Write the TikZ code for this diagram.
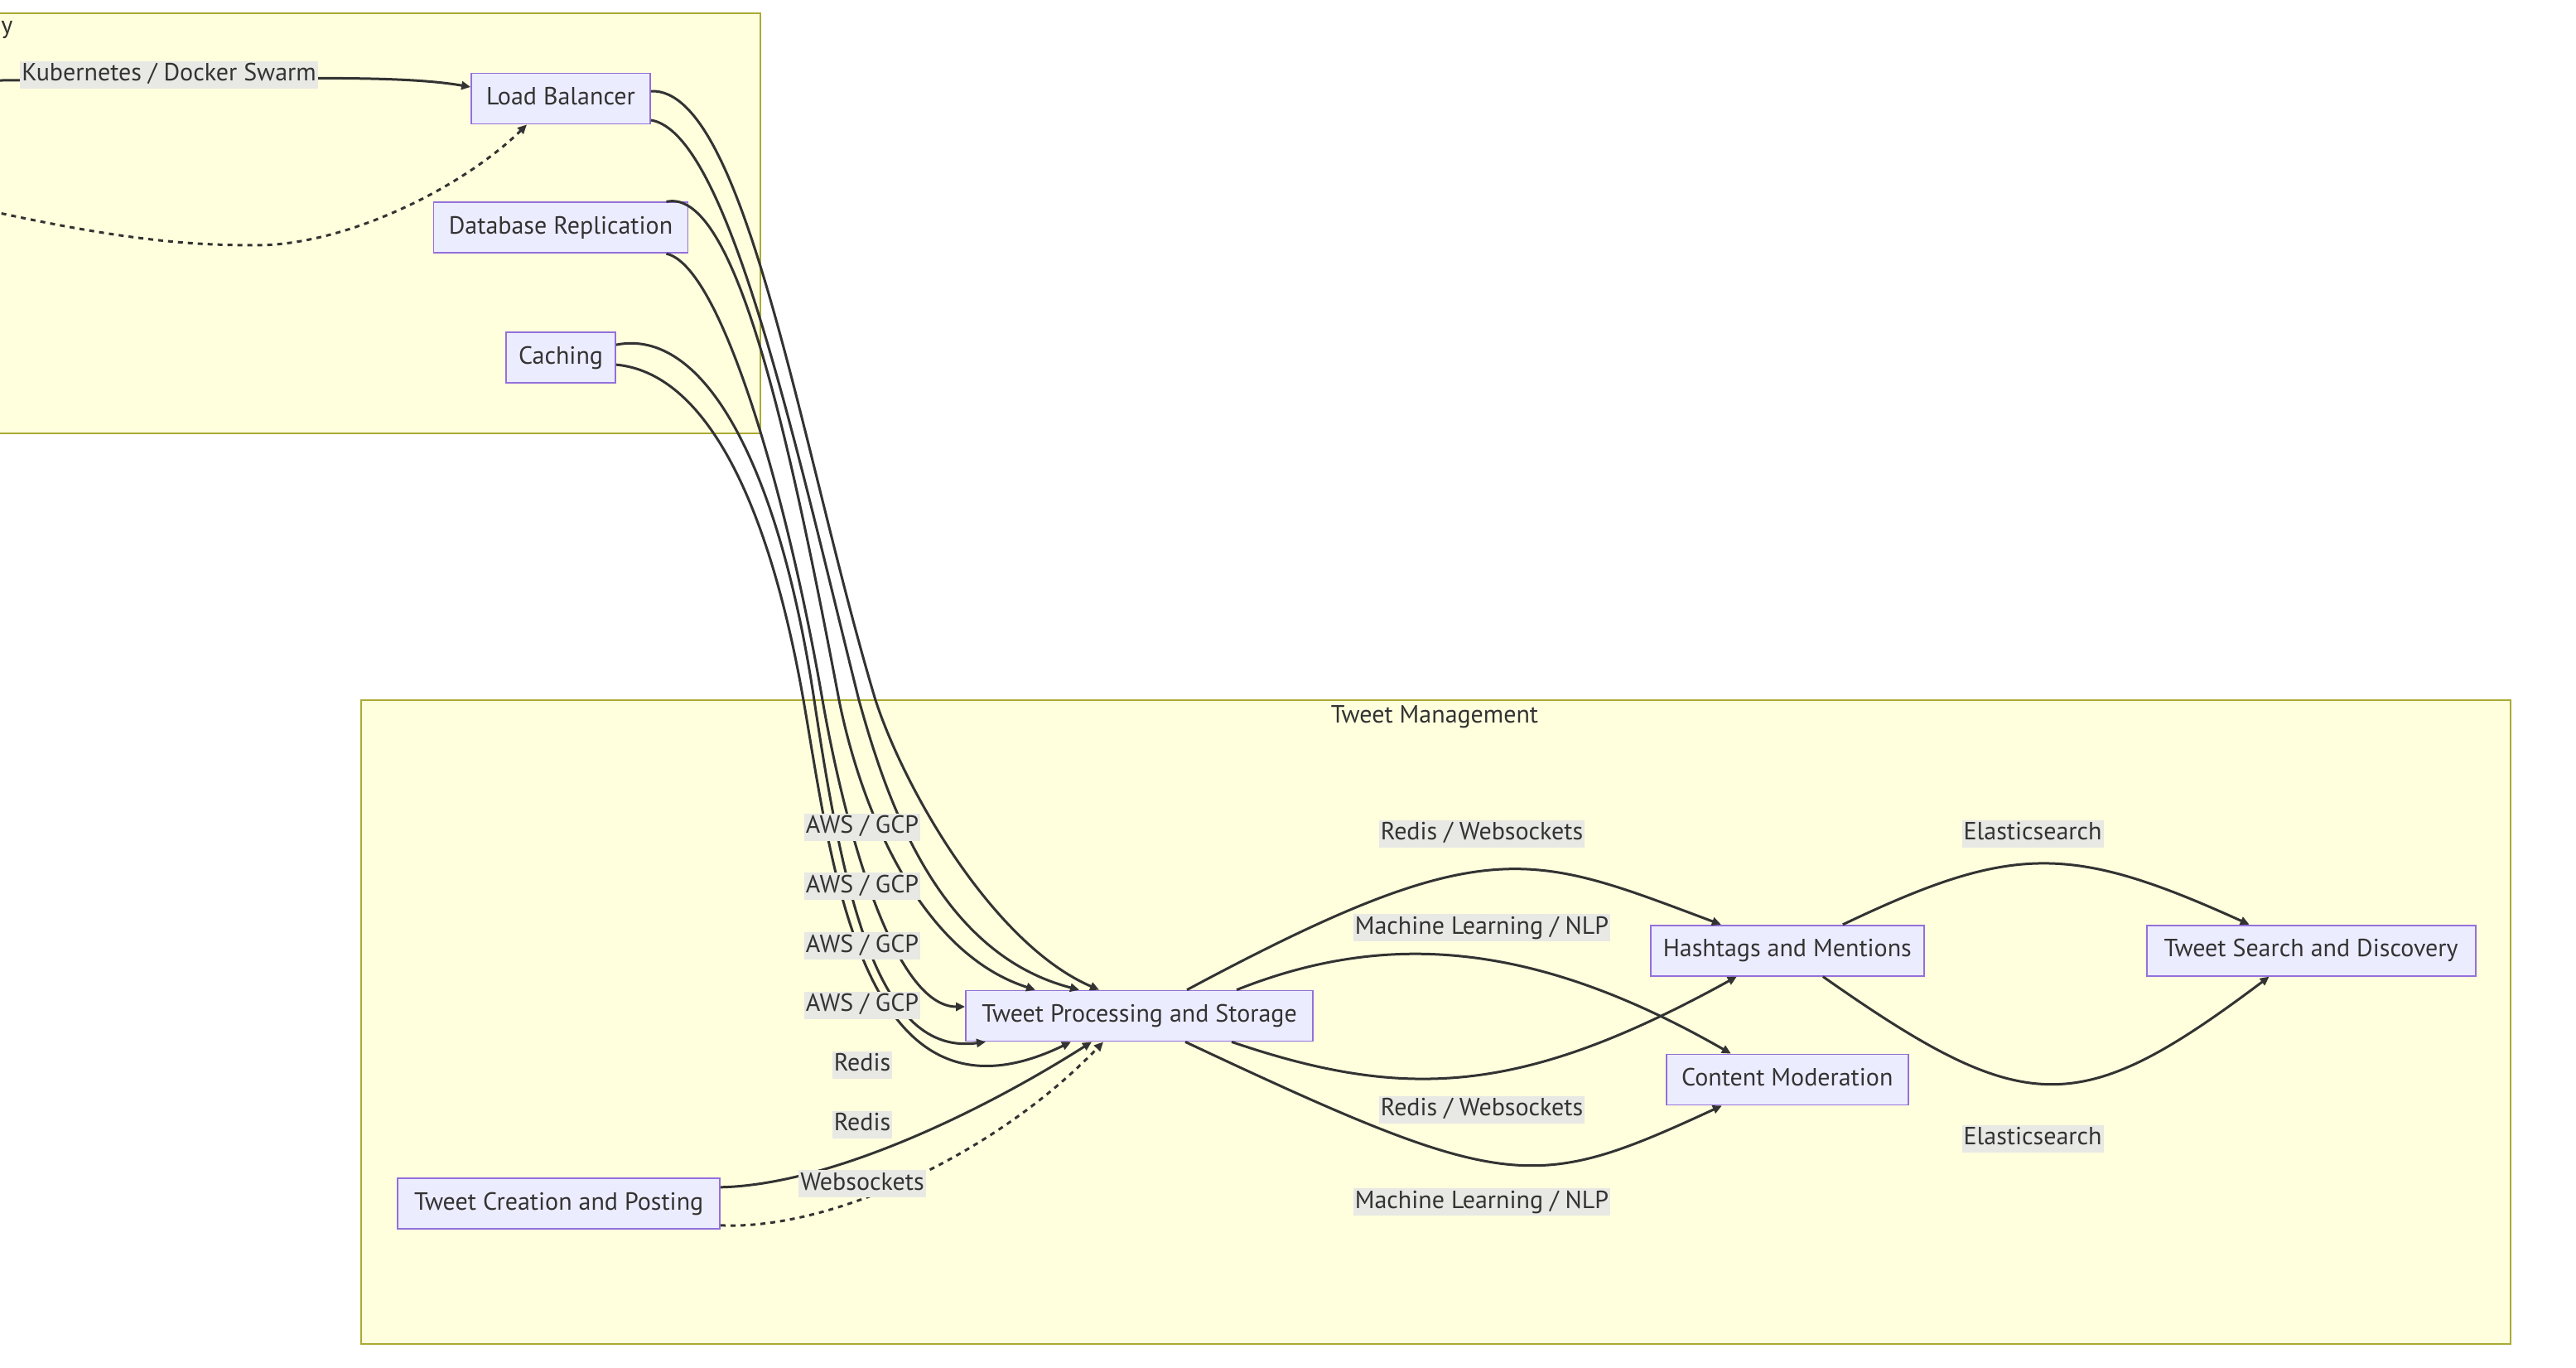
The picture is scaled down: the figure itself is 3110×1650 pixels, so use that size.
\documentclass[tikz,border=0pt]{standalone}
\usepackage{fontspec}
\setmainfont{PT Sans}
\usetikzlibrary{positioning, arrows.meta}

\definecolor{clusterfill}{HTML}{FFFFDE}
\definecolor{clusterline}{HTML}{AAAA33}
\definecolor{nodefill}{HTML}{ECECFF}
\definecolor{nodeline}{HTML}{9370DB}
\definecolor{inkcol}{HTML}{333333}
\definecolor{labelfill}{HTML}{E8E8E4}

\begin{document}
\begin{tikzpicture}[
    x=0.5pt, y=-0.5pt,
    node distance=19pt and 40pt,
    every node/.style={font=\fontsize{15}{18}\selectfont, text=inkcol},
    box/.style={rectangle, draw=nodeline, fill=nodefill, line width=0.9pt, minimum height=30.5pt, inner xsep=7.5pt, text height=11pt, text depth=3.5pt},
    cluster/.style={draw=clusterline, fill=clusterfill, line width=0.9pt},
    edgelabel/.style={fill=labelfill, inner xsep=1pt, inner ysep=0pt, minimum height=16.5pt, text height=11pt, text depth=3.5pt},
    arr/.style={-{Triangle[length=5.5pt, width=5pt]}, draw=inkcol, line width=1.5pt},
    dotarr/.style={arr, dash pattern=on 3pt off 3pt}
]
    \useasboundingbox (0,0) rectangle (3110,1650);
    \clip (0,0) rectangle (3110,1650);
    \draw[cluster] (-60,16) rectangle (918,523);
    \draw[cluster] (436,845) rectangle (3031,1622);
    \node[anchor=west, inner sep=0pt] (scaletitle) at (1,36) {y};
    \node (tweettitle) at (1732,865) {Tweet Management};

    \node[box, minimum width=108pt] (lb) at (677,119) {Load Balancer};
    \node[box, minimum width=153.5pt, below=46.5pt of lb] (db) {Database Replication};
    \node[box, minimum width=65.5pt, below=47pt of db] (cache) {Caching};
    \node[box, minimum width=209.5pt] (tps) at (1375.5,1226) {Tweet Processing and Storage};
    \node[box, minimum width=165pt, above right=8pt and 203pt of tps] (hashtags) {Hashtags and Mentions};
    \node[box, minimum width=146pt, below=46.5pt of hashtags] (moderation) {Content Moderation};
    \node[box, minimum width=198.5pt, right=133.5pt of hashtags] (search) {Tweet Search and Discovery};
    \node[box, minimum width=194.5pt, below left=82pt and 147.5pt of tps] (creation) {Tweet Creation and Posting};

    \coordinate (clusterin) at (-10,97);
    \coordinate (dottedin) at (-10,255);
    \draw[arr] (clusterin) .. controls (300,97) and (470,88) .. ([yshift=7pt]lb.west);
    \draw[dotarr] (dottedin) .. controls (150,290) and (230,296) .. (309,296)
        .. controls (420,296) and (560,225) .. ([xshift=-20.5pt]lb.south);

    \draw[arr] ([yshift=4.5pt]lb.east) .. controls (900,105) and (967,545) .. (1057,845)
        .. controls (1093,955) and (1200,1140) .. ([xshift=-24.25pt]tps.north);
    \draw[arr] ([yshift=-13pt]lb.east) .. controls (880,160) and (962,545) .. (1037,845)
        .. controls (1069,960) and (1130,1150) .. ([xshift=-36.25pt]tps.north);
    \draw[arr] ([xshift=63.75pt]db.north) .. controls (890,225) and (956,545) .. (1013,845)
        .. controls (1039,975) and (1110,1150) .. ([xshift=-62.75pt]tps.north);
    \draw[arr] ([xshift=63.75pt]db.south) .. controls (870,320) and (950,595) .. (993,845)
        .. controls (1021,1005) and (1080,1215) .. ([yshift=5.5pt]tps.west);
    \draw[arr] ([yshift=7.75pt]cache.east) .. controls (850,395) and (940,560) .. (983,845)
        .. controls (1019,1085) and (1060,1275) .. ([xshift=-92.75pt]tps.south);
    \draw[arr] ([yshift=-4.25pt]cache.east) .. controls (850,450) and (927,600) .. (970,845)
        .. controls (1005,1045) and (1040,1380) .. ([xshift=-41.25pt]tps.south);

    \draw[arr] ([yshift=10pt]creation.east) .. controls (1000,1430) and (1180,1345) .. ([xshift=-28.75pt]tps.south);
    \draw[dotarr] ([yshift=-13pt]creation.east) .. controls (1000,1485) and (1200,1395) .. ([xshift=-21.75pt]tps.south);

    \draw[arr] ([xshift=28.75pt]tps.north) .. controls (1796,1000) and (1848,1030) .. ([xshift=-40pt]hashtags.north);
    \draw[arr] ([xshift=58.75pt]tps.north) .. controls (1680,1120) and (1860,1140) .. ([xshift=-34pt]moderation.north);
    \draw[arr] ([xshift=55.75pt]tps.south) .. controls (1700,1330) and (1840,1320) .. ([xshift=-30.5pt]hashtags.south);
    \draw[arr] ([xshift=27.75pt]tps.south) .. controls (1820,1440) and (1850,1440) .. ([xshift=-39.5pt]moderation.south);
    \draw[arr] ([xshift=33.5pt]hashtags.north) .. controls (2430,1018) and (2500,1018) .. ([xshift=-37.25pt]search.north);
    \draw[arr] ([xshift=21.5pt]hashtags.south) .. controls (2446,1351) and (2510,1351) .. ([xshift=-25.25pt]search.south);

    \node[edgelabel] (k8slabel) at (204,90) {Kubernetes / Docker Swarm};
    \node[edgelabel] (aws1) at (1041,998) {AWS / GCP};
    \node[edgelabel, below=of aws1] (aws2) {AWS / GCP};
    \node[edgelabel, below=of aws2] (aws3) {AWS / GCP};
    \node[edgelabel, below=of aws3] (aws4) {AWS / GCP};
    \node[edgelabel, below=of aws4] (redis1) {Redis};
    \node[edgelabel, below=of redis1] (redis2) {Redis};
    \node[edgelabel, below=of redis2] (sockets) {Websockets};
    \node[edgelabel] (rw1) at (1789,1006) {Redis / Websockets};
    \node[edgelabel, below=40pt of rw1] (ml1) {Machine Learning / NLP};
    \node[edgelabel] (rw2) at (1789,1339) {Redis / Websockets};
    \node[edgelabel, below=39pt of rw2] (ml2) {Machine Learning / NLP};
    \node[edgelabel] (es1) at (2454,1006) {Elasticsearch};
    \node[edgelabel] (es2) at (2454,1374) {Elasticsearch};
\end{tikzpicture}
\end{document}
